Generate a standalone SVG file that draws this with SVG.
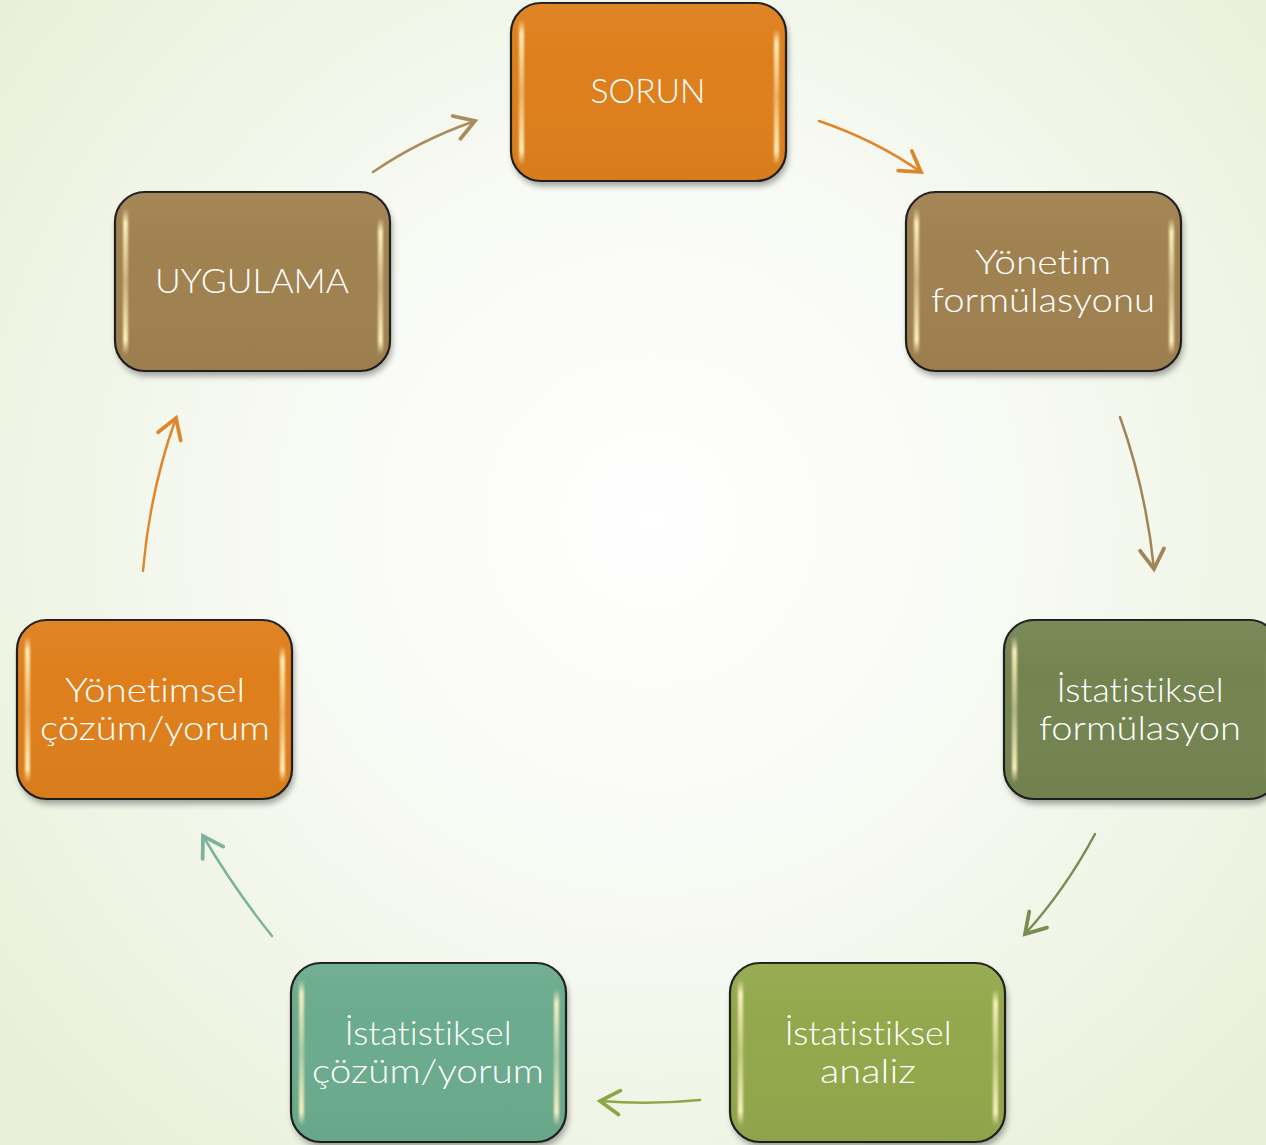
<svg xmlns="http://www.w3.org/2000/svg" width="1266" height="1145" viewBox="0 0 1266 1145">
<defs>
  <radialGradient id="bg" cx="650" cy="520" r="820" gradientUnits="userSpaceOnUse">
    <stop offset="0" stop-color="#FFFFFF"/>
    <stop offset="0.45" stop-color="#F8FAF4"/>
    <stop offset="1" stop-color="#E9F0D9"/>
  </radialGradient>
  <linearGradient id="hl" x1="0" y1="0" x2="0" y2="1">
    <stop offset="0" stop-color="#FFF3C0" stop-opacity="0"/>
    <stop offset="0.1" stop-color="#FFF3C0" stop-opacity="0.95"/>
    <stop offset="0.5" stop-color="#FFF3C0" stop-opacity="0.45"/>
    <stop offset="0.9" stop-color="#FFF3C0" stop-opacity="0.95"/>
    <stop offset="1" stop-color="#FFF3C0" stop-opacity="0"/>
  </linearGradient>
  <linearGradient id="sheen" x1="0" y1="0" x2="0" y2="1">
    <stop offset="0" stop-color="#FFFFFF" stop-opacity="0.05"/>
    <stop offset="0.3" stop-color="#FFFFFF" stop-opacity="0"/>
    <stop offset="1" stop-color="#000000" stop-opacity="0.03"/>
  </linearGradient>
  <filter id="sh" x="-10%" y="-10%" width="120%" height="125%">
    <feGaussianBlur stdDeviation="3"/>
  </filter>
  <filter id="soft" x="-50%" y="-10%" width="200%" height="120%">
    <feGaussianBlur stdDeviation="1"/>
  </filter>
  <marker id="m-tan" markerUnits="userSpaceOnUse" markerWidth="30" markerHeight="30" viewBox="-16 -10 20 20" refX="0" refY="0" orient="auto"><path d="M-13,-8 L0,0 L-13,8" fill="none" stroke="#A88C5C" stroke-width="2.5" stroke-linecap="round"/></marker>
  <marker id="m-or" markerUnits="userSpaceOnUse" markerWidth="30" markerHeight="30" viewBox="-16 -10 20 20" refX="0" refY="0" orient="auto"><path d="M-13,-8 L0,0 L-13,8" fill="none" stroke="#E0852A" stroke-width="2.5" stroke-linecap="round"/></marker>
  <marker id="m-br" markerUnits="userSpaceOnUse" markerWidth="30" markerHeight="30" viewBox="-16 -10 20 20" refX="0" refY="0" orient="auto"><path d="M-13,-8 L0,0 L-13,8" fill="none" stroke="#A08558" stroke-width="2.5" stroke-linecap="round"/></marker>
  <marker id="m-ol" markerUnits="userSpaceOnUse" markerWidth="30" markerHeight="30" viewBox="-16 -10 20 20" refX="0" refY="0" orient="auto"><path d="M-13,-8 L0,0 L-13,8" fill="none" stroke="#7A8C50" stroke-width="2.5" stroke-linecap="round"/></marker>
  <marker id="m-li" markerUnits="userSpaceOnUse" markerWidth="30" markerHeight="30" viewBox="-16 -10 20 20" refX="0" refY="0" orient="auto"><path d="M-13,-8 L0,0 L-13,8" fill="none" stroke="#8EA745" stroke-width="2.5" stroke-linecap="round"/></marker>
  <marker id="m-te" markerUnits="userSpaceOnUse" markerWidth="30" markerHeight="30" viewBox="-16 -10 20 20" refX="0" refY="0" orient="auto"><path d="M-13,-8 L0,0 L-13,8" fill="none" stroke="#7DB39B" stroke-width="2.5" stroke-linecap="round"/></marker>
</defs>
<style>
  .shadow { fill: #000; opacity: 0.35; }
  .box { stroke: #1E1E1E; stroke-width: 2.2; }
  .orange { fill: #DE7F1C; }
  .brown { fill: #A08150; }
  .dgreen { fill: #748451; }
  .lgreen { fill: #93A84C; }
  .teal { fill: #6BAB8E; }
  .sheen { fill: url(#sheen); }
  .hl { fill: url(#hl); }
  .lbl { font-family: "Lato", "Open Sans", "Liberation Sans", sans-serif; font-size: 33px; fill: #FFFFFF; text-anchor: middle; font-weight: 300; font-variant-ligatures: none; }
  .conn path { fill: none; stroke-width: 2.5; stroke-linecap: round; }
</style>
<rect x="0" y="0" width="1266" height="1145" fill="url(#bg)"/>

<g id="connectors" class="conn">
  <path d="M373,172 Q420,140 475,121" stroke="#A88C5C" marker-end="url(#m-tan)"/>
  <path d="M819,121 Q875,140 921,172" stroke="#E0852A" marker-end="url(#m-or)"/>
  <path d="M1120,417 Q1146,490 1154,569" stroke="#A08558" marker-end="url(#m-br)"/>
  <path d="M1095,834 Q1065,890 1025,934" stroke="#7A8C50" marker-end="url(#m-ol)"/>
  <path d="M700,1100 Q650,1105 600,1101" stroke="#8EA745" marker-end="url(#m-li)"/>
  <path d="M272,936 Q235,890 203,836" stroke="#7DB39B" marker-end="url(#m-te)"/>
  <path d="M143,571 Q150,490 176,418" stroke="#E0852A" marker-end="url(#m-or)"/>
</g>

<g id="node-sorun" transform="translate(511,3)">
  <rect class="shadow" x="2" y="5" width="275" height="178" rx="30" filter="url(#sh)"/>
  <rect class="box orange" width="275" height="178" rx="30"/>
  <rect class="sheen" width="275" height="178" rx="30"/>
  <rect class="hl" x="8" y="16" width="5" height="146" rx="2.5" filter="url(#soft)"/>
  <rect class="hl" x="263" y="26" width="5" height="136" rx="2.5" filter="url(#soft)"/>
  <text class="lbl" x="137" y="100" textLength="115" lengthAdjust="spacingAndGlyphs">SORUN</text>
</g>

<g id="node-yonetim-formulasyonu" transform="translate(906,192)">
  <rect class="shadow" x="2" y="5" width="275" height="179" rx="30" filter="url(#sh)"/>
  <rect class="box brown" width="275" height="179" rx="30"/>
  <rect class="sheen" width="275" height="179" rx="30"/>
  <rect class="hl" x="8" y="16" width="5" height="147" rx="2.5" filter="url(#soft)"/>
  <rect class="hl" x="263" y="26" width="5" height="137" rx="2.5" filter="url(#soft)"/>
  <text class="lbl" x="137" y="82" textLength="136" lengthAdjust="spacingAndGlyphs">Yönetim</text>
  <text class="lbl" x="137" y="120" textLength="224" lengthAdjust="spacingAndGlyphs">formülasyonu</text>
</g>

<g id="node-uygulama" transform="translate(115,192)">
  <rect class="shadow" x="2" y="5" width="275" height="179" rx="30" filter="url(#sh)"/>
  <rect class="box brown" width="275" height="179" rx="30"/>
  <rect class="sheen" width="275" height="179" rx="30"/>
  <rect class="hl" x="8" y="16" width="5" height="147" rx="2.5" filter="url(#soft)"/>
  <rect class="hl" x="263" y="26" width="5" height="137" rx="2.5" filter="url(#soft)"/>
  <text class="lbl" x="137" y="101" textLength="194" lengthAdjust="spacingAndGlyphs">UYGULAMA</text>
</g>

<g id="node-yonetimsel-cozum" transform="translate(17,620)">
  <rect class="shadow" x="2" y="5" width="275" height="179" rx="30" filter="url(#sh)"/>
  <rect class="box orange" width="275" height="179" rx="30"/>
  <rect class="sheen" width="275" height="179" rx="30"/>
  <rect class="hl" x="8" y="16" width="5" height="147" rx="2.5" filter="url(#soft)"/>
  <rect class="hl" x="263" y="26" width="5" height="137" rx="2.5" filter="url(#soft)"/>
  <text class="lbl" x="138" y="82" textLength="180" lengthAdjust="spacingAndGlyphs">Yönetimsel</text>
  <text class="lbl" x="138" y="120" textLength="230" lengthAdjust="spacingAndGlyphs">çözüm/yorum</text>
</g>

<g id="node-istatistiksel-formulasyon" transform="translate(1004,620)">
  <rect class="shadow" x="2" y="5" width="275" height="179" rx="30" filter="url(#sh)"/>
  <rect class="box dgreen" width="275" height="179" rx="30"/>
  <rect class="sheen" width="275" height="179" rx="30"/>
  <rect class="hl" x="8" y="16" width="5" height="147" rx="2.5" filter="url(#soft)"/>
  <rect class="hl" x="263" y="26" width="5" height="137" rx="2.5" filter="url(#soft)"/>
  <text class="lbl" x="136" y="82" textLength="167" lengthAdjust="spacingAndGlyphs">İstatistiksel</text>
  <text class="lbl" x="136" y="120" textLength="202" lengthAdjust="spacingAndGlyphs">formülasyon</text>
</g>

<g id="node-istatistiksel-analiz" transform="translate(730,963)">
  <rect class="shadow" x="2" y="5" width="275" height="179" rx="30" filter="url(#sh)"/>
  <rect class="box lgreen" width="275" height="179" rx="30"/>
  <rect class="sheen" width="275" height="179" rx="30"/>
  <rect class="hl" x="8" y="16" width="5" height="147" rx="2.5" filter="url(#soft)"/>
  <rect class="hl" x="263" y="26" width="5" height="137" rx="2.5" filter="url(#soft)"/>
  <text class="lbl" x="138" y="82" textLength="167" lengthAdjust="spacingAndGlyphs">İstatistiksel</text>
  <text class="lbl" x="138" y="120" textLength="96" lengthAdjust="spacingAndGlyphs">analiz</text>
</g>

<g id="node-istatistiksel-cozum" transform="translate(291,963)">
  <rect class="shadow" x="2" y="5" width="275" height="179" rx="30" filter="url(#sh)"/>
  <rect class="box teal" width="275" height="179" rx="30"/>
  <rect class="sheen" width="275" height="179" rx="30"/>
  <rect class="hl" x="8" y="16" width="5" height="147" rx="2.5" filter="url(#soft)"/>
  <rect class="hl" x="263" y="26" width="5" height="137" rx="2.5" filter="url(#soft)"/>
  <text class="lbl" x="137" y="82" textLength="167" lengthAdjust="spacingAndGlyphs">İstatistiksel</text>
  <text class="lbl" x="137" y="120" textLength="232" lengthAdjust="spacingAndGlyphs">çözüm/yorum</text>
</g>
</svg>
